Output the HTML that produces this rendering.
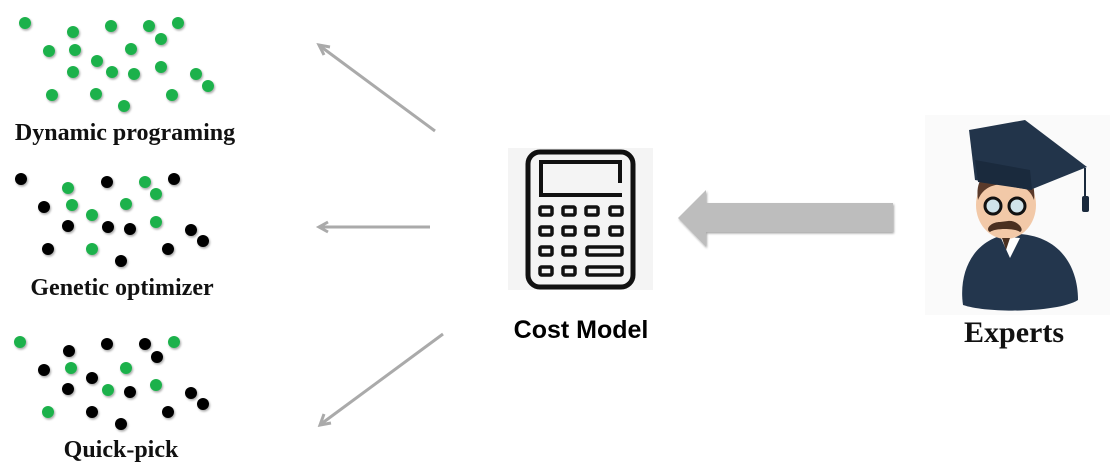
<!DOCTYPE html>
<html><head><style>
html,body{margin:0;padding:0;background:#fff;width:1112px;height:471px;overflow:hidden}
.lbl{position:absolute;font-family:"Liberation Serif",serif;font-weight:bold;color:#111;white-space:nowrap;transform:translateX(-50%)}
</style></head><body>
<svg width="1112" height="471" style="position:absolute;left:0;top:0">
<defs><filter id="sh"><feDropShadow dx="1" dy="1.5" stdDeviation="1" flood-opacity="0.35"/></filter></defs>
<g filter="url(#sh)">
<g fill="#1db14b">
<circle cx="25" cy="23" r="6"/><circle cx="73" cy="32" r="6"/><circle cx="111" cy="26" r="6"/><circle cx="149" cy="26" r="6"/><circle cx="178" cy="23" r="6"/><circle cx="161" cy="39" r="6"/><circle cx="49" cy="51" r="6"/><circle cx="75" cy="50" r="6"/><circle cx="131" cy="49" r="6"/><circle cx="97" cy="61" r="6"/><circle cx="73" cy="72" r="6"/><circle cx="112" cy="72" r="6"/><circle cx="134" cy="74" r="6"/><circle cx="161" cy="67" r="6"/><circle cx="196" cy="74" r="6"/><circle cx="208" cy="86" r="6"/><circle cx="52" cy="95" r="6"/><circle cx="96" cy="94" r="6"/><circle cx="172" cy="95" r="6"/><circle cx="124" cy="106" r="6"/>
<circle cx="68" cy="188" r="6"/><circle cx="145" cy="182" r="6"/><circle cx="156" cy="194" r="6"/><circle cx="72" cy="205" r="6"/><circle cx="126" cy="204" r="6"/><circle cx="92" cy="215" r="6"/><circle cx="156" cy="222" r="6"/><circle cx="92" cy="249" r="6"/>
<circle cx="20" cy="342" r="6"/><circle cx="174" cy="342" r="6"/><circle cx="71" cy="368" r="6"/><circle cx="126" cy="368" r="6"/><circle cx="108" cy="390" r="6"/><circle cx="156" cy="385" r="6"/><circle cx="48" cy="412" r="6"/>
</g>
<g fill="#000">
<circle cx="21" cy="179" r="6"/><circle cx="107" cy="182" r="6"/><circle cx="174" cy="179" r="6"/><circle cx="44" cy="207" r="6"/><circle cx="68" cy="226" r="6"/><circle cx="108" cy="227" r="6"/><circle cx="130" cy="229" r="6"/><circle cx="191" cy="230" r="6"/><circle cx="203" cy="241" r="6"/><circle cx="48" cy="249" r="6"/><circle cx="168" cy="249" r="6"/><circle cx="121" cy="261" r="6"/>
<circle cx="69" cy="351" r="6"/><circle cx="107" cy="344" r="6"/><circle cx="145" cy="344" r="6"/><circle cx="157" cy="357" r="6"/><circle cx="44" cy="370" r="6"/><circle cx="92" cy="378" r="6"/><circle cx="68" cy="389" r="6"/><circle cx="130" cy="392" r="6"/><circle cx="191" cy="393" r="6"/><circle cx="203" cy="404" r="6"/><circle cx="92" cy="412" r="6"/><circle cx="168" cy="412" r="6"/><circle cx="121" cy="424" r="6"/>
</g>
</g>
<g stroke="#aaa" stroke-width="3" fill="none">
<line x1="435" y1="131" x2="320" y2="46"/><polyline points="330,47 319,45 324,55"/>
<line x1="430" y1="227" x2="320" y2="227"/><polyline points="328,222 319,227 328,232"/>
<line x1="443" y1="334" x2="321" y2="424"/><polyline points="324,414 320,425 331,423"/>
</g>
<polygon points="678,218 706,190 706,203 893,203 893,232 706,232 706,247" fill="#bdbdbd" filter="url(#sh)"/>
<rect x="508" y="148" width="145" height="142" fill="#f4f4f4"/>
<g stroke="#111" fill="none">
<rect x="528" y="152" width="105" height="135" rx="12" stroke-width="5"/>
<path d="M620,183 V162 H541 V195 H622" stroke-width="4"/>
<g stroke-width="3.5">
<rect x="540" y="207" width="12" height="8" rx="1.5"/><rect x="563" y="207" width="12" height="8" rx="1.5"/><rect x="586" y="207" width="12" height="8" rx="1.5"/><rect x="610" y="207" width="12" height="8" rx="1.5"/>
<rect x="540" y="227" width="12" height="8" rx="1.5"/><rect x="563" y="227" width="12" height="8" rx="1.5"/><rect x="586" y="227" width="12" height="8" rx="1.5"/><rect x="610" y="227" width="12" height="8" rx="1.5"/>
<rect x="540" y="247" width="12" height="8" rx="1.5"/><rect x="563" y="247" width="12" height="8" rx="1.5"/><rect x="587" y="247" width="35" height="8" rx="1.5"/>
<rect x="540" y="267" width="12" height="8" rx="1.5"/><rect x="563" y="267" width="12" height="8" rx="1.5"/><rect x="587" y="267" width="35" height="8" rx="1.5"/>
</g></g>
<rect x="925" y="115" width="185" height="200" fill="#fafafa"/>
<path d="M963,305 C958,270 975,238 1010,234 C1055,232 1078,262 1078,300 C1060,312 990,314 963,305 Z" fill="#23364d"/>
<path d="M1000,236 L1010,258 L1020,238 Z" fill="#fff"/>
<ellipse cx="1006" cy="205" rx="30" ry="34" fill="#f2c9a8"/>
<path d="M978,200 C975,180 985,168 1005,168 C1028,168 1036,182 1034,200 C1030,188 1020,184 1005,184 C990,184 982,190 978,200 Z" fill="#5a3a2a"/>
<path d="M1000,222 C990,222 985,230 990,232 C995,228 1015,228 1020,232 C1025,230 1018,220 1008,221 Z" fill="#4a3020"/>
<path d="M1002,238 L1010,238 L1006,250 Z" fill="#4a3020"/>
<circle cx="993" cy="206" r="8" fill="#cfe3ea" stroke="#111" stroke-width="3"/>
<circle cx="1017" cy="206" r="8" fill="#cfe3ea" stroke="#111" stroke-width="3"/>
<path d="M969,130 L1025,120 L1087,167 L1030,190 L975,180 Z" fill="#22344a"/>
<path d="M975,160 L1030,170 L1032,190 L978,182 Z" fill="#1a2a3d"/>
<line x1="1085" y1="168" x2="1085" y2="200" stroke="#1a2a3d" stroke-width="2"/>
<rect x="1082" y="196" width="7" height="16" rx="2" fill="#1a2a3d"/>
</svg>
<div class="lbl" style="left:125px;top:120px;font-size:24px">Dynamic programing</div>
<div class="lbl" style="left:122px;top:275px;font-size:24px">Genetic optimizer</div>
<div class="lbl" style="left:121px;top:437px;font-size:24px">Quick-pick</div>
<div class="lbl" style="left:581px;top:316px;font-size:25px;font-family:'Liberation Sans',sans-serif;color:#000">Cost Model</div>
<div class="lbl" style="left:1014px;top:316px;font-size:30px">Experts</div>
</body></html>
